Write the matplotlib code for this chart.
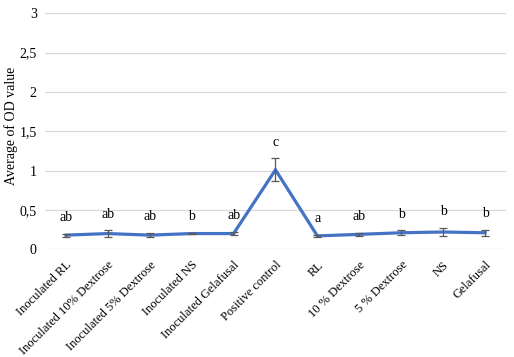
import matplotlib
matplotlib.use("Agg")
import matplotlib.pyplot as plt
import numpy as np

categories = ["Inoculated RL", "Inoculated 10% Dextrose", "Inoculated 5% Dextrose",
              "Inoculated NS", "Inoculated Gelafusal", "Positive control", "RL",
              "10 % Dextrose", "5 % Dextrose", "NS", "Gelafusal"]
means = [0.18, 0.20, 0.18, 0.20, 0.20, 1.01, 0.17, 0.19, 0.21, 0.22, 0.21]
errors = [0.02, 0.04, 0.03, 0.01, 0.02, 0.145, 0.01, 0.02, 0.03, 0.05, 0.04]
letters = ["ab", "ab", "ab", "b", "ab", "c", "a", "ab", "b", "b", "b"]
yticks = [0, 0.5, 1, 1.5, 2, 2.5, 3]
ytick_labels = ["0", "0,5", "1", "1,5", "2", "2,5", "3"]

plt.rcParams['font.family'] = ['Liberation Serif', 'DejaVu Serif']

fig = plt.figure(figsize=(5.14, 3.57), dpi=100)
ax = fig.add_axes([0.0875, 0.3017, 0.8969, 0.661])

x = np.arange(len(categories))
ax.plot(x, means, color="#4472C4", lw=2.3, zorder=3, solid_joinstyle='miter')
ax.errorbar(x, means, yerr=errors, fmt='none', ecolor="#595959", elinewidth=0.9,
            capsize=3, capthick=0.9, zorder=4)

for xi, m, e, lab in zip(x, means, errors, letters):
    ax.annotate(lab, (xi, m + e), xytext=(0, 7), textcoords='offset points',
                ha='center', va='bottom', fontsize=10)

ax.set_xlim(-0.5, len(categories) - 0.5)
ax.set_ylim(0, 3)
ax.set_yticks(yticks)
ax.set_yticklabels(ytick_labels, fontsize=10)
ax.set_xticks(x)
ax.set_xticklabels(categories, rotation=45, ha='right', rotation_mode='anchor', fontsize=9)
ax.tick_params(axis='both', length=0)
ax.tick_params(axis='y', pad=6)
ax.tick_params(axis='x', pad=7)
ax.grid(axis='y', color="#d9d9d9", lw=0.9)
ax.set_axisbelow(True)
for s in ax.spines.values():
    s.set_visible(False)
fig.text(11 / 514, 1 - 126 / 357, "Average of OD value", rotation=90,
         ha='center', va='center', fontsize=10)

fig.savefig("out.png", dpi=100)
